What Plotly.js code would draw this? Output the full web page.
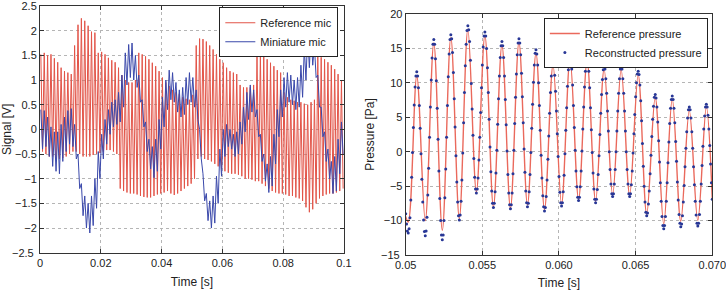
<!DOCTYPE html>
<html><head><meta charset="utf-8">
<script src="https://cdn.plot.ly/plotly-3.0.1.min.js"></script>
<style>html,body{margin:0;padding:0;background:#fff}#chart{width:726px;height:290px}</style>
</head><body><div id="chart"></div>
<script>
// ---------- Left panel: microphone signals (per-cycle maxima / minima, ~900 Hz tone) ----------
const leftDuration = 0.1;
const refMicHi = [1.52,1.55,1.50,1.52,1.44,1.36,1.25,1.18,1.15,1.12,
  1.70,2.12,2.25,2.20,2.10,1.98,1.96,1.55,1.57,1.52,
  1.45,1.40,1.36,1.25,1.10,1.00,0.95,0.95,1.00,1.55,
  1.52,1.48,1.42,1.35,1.28,1.18,1.05,0.95,0.88,0.80,
  0.75,0.72,0.65,0.62,0.60,0.70,1.70,1.84,1.83,1.78,
  1.70,1.62,1.52,1.42,1.35,1.25,1.18,1.15,1.12,0.90,
  0.85,0.85,0.85,0.90,1.50,1.52,1.48,1.42,1.35,1.28,
  1.20,1.15,0.75,0.65,0.60,0.58,0.55,0.55,0.52,0.50,
  0.55,0.60,1.48,1.46,1.42,1.36,1.30,1.22,1.12,1.00];
const refMicLo = [-0.45,-0.50,-0.55,-0.55,-0.60,-0.60,-0.58,-0.55,-0.50,-0.45,
  -0.45,-0.50,-0.55,-0.55,-0.55,-0.52,-0.50,-0.48,-0.45,-0.42,
  -0.42,-0.45,-0.50,-1.20,-1.25,-1.28,-1.30,-1.30,-1.32,-1.35,
  -1.37,-1.38,-1.38,-1.35,-1.32,-1.30,-1.28,-1.25,-1.30,-1.33,
  -1.30,-1.25,-1.20,-1.15,-1.10,-1.00,-0.60,-0.55,-0.60,-0.62,
  -0.65,-0.70,-0.75,-0.80,-0.85,-0.88,-0.90,-0.90,-0.92,-0.95,
  -1.00,-1.00,-1.02,-1.05,-1.05,-1.10,-1.15,-1.20,-1.25,-1.28,
  -1.30,-1.30,-1.32,-1.35,-1.35,-1.38,-1.40,-1.45,-1.58,-1.68,
  -1.62,-1.50,-1.40,-1.35,-1.32,-1.30,-1.30,-1.28,-1.25,-1.20];
const miniMicHi = [0.40,0.38,0.25,0.05,-0.05,-0.05,0.10,0.25,0.38,0.42,
  0.10,-0.50,-1.10,-1.35,-1.50,-1.35,-1.00,-0.45,-0.10,0.20,
  0.40,0.55,0.60,0.75,1.10,1.55,1.72,1.75,1.50,1.10,
  0.60,0.15,-0.20,-0.35,-0.20,0.20,0.65,1.00,1.20,1.15,
  0.95,0.80,0.85,1.05,1.15,1.05,0.80,0.00,-0.90,-1.30,
  -1.45,-1.35,-0.95,-0.40,0.00,0.10,0.00,-0.10,-0.05,0.15,
  0.45,0.75,0.90,0.80,0.40,-0.10,-0.50,-0.70,-0.55,-0.10,
  0.40,0.80,1.05,1.15,1.10,1.00,1.05,1.30,1.65,1.92,
  1.98,1.70,1.10,0.45,-0.05,-0.40,-0.65,-0.55,-0.20,0.15];
const miniMicLo = [-0.40,-0.35,-0.55,-0.75,-0.85,-0.90,-0.65,-0.45,-0.30,-0.35,
  -0.60,-1.20,-1.75,-2.00,-2.10,-1.95,-1.60,-1.00,-0.60,-0.30,
  -0.10,0.05,0.10,0.15,0.45,0.90,1.05,1.00,0.85,0.55,
  0.05,-0.45,-0.80,-0.98,-0.85,-0.40,0.05,0.40,0.60,0.55,
  0.35,0.25,0.30,0.50,0.55,0.45,0.20,-0.60,-1.45,-1.85,
  -2.00,-1.90,-1.50,-0.95,-0.55,-0.35,-0.40,-0.55,-0.50,-0.30,
  -0.05,0.20,0.35,0.25,-0.15,-0.65,-1.05,-1.28,-1.15,-0.70,
  -0.15,0.25,0.45,0.55,0.50,0.40,0.45,0.65,1.00,1.25,
  1.30,1.05,0.45,-0.15,-0.65,-1.00,-1.30,-1.25,-0.90,-0.50];

// ---------- Right panel: pressure 0.05 - 0.07 s ----------
const pressStart = 0.05, pressEnd = 0.07;
const reconstructed = [
 -9.0,-10.5,-11.5,
 -11.8,-11.2,-9.6,-7.0,-3.7,-0.1,3.5,6.8,9.4,11.0,
 11.6,11.0,9.3,6.7,3.4,-0.3,-4.0,-7.3,-9.9,-11.6,
 -12.2,-11.5,-9.5,-6.3,-2.4,2.1,6.5,10.4,13.6,15.6,
 16.3,15.6,13.5,10.3,6.3,1.8,-2.8,-6.8,-10.0,-12.1,
 -12.8,-12.1,-10.0,-6.7,-2.5,2.1,6.7,10.9,14.2,16.3,
 17.0,16.4,14.4,11.5,7.7,3.6,-0.6,-4.4,-7.3,-9.3,
 -9.9,-9.2,-7.2,-4.1,-0.2,4.2,8.6,12.5,15.6,17.6,
 18.3,17.7,16.0,13.3,9.9,6.2,2.4,-1.0,-3.7,-5.4,
 -6.0,-5.4,-3.8,-1.2,2.1,5.7,9.3,12.6,15.2,16.8,
 17.4,16.8,15.0,12.2,8.6,4.7,0.7,-2.9,-5.7,-7.5,
 -8.1,-7.5,-5.8,-3.1,0.2,4.0,7.7,11.0,13.7,15.4,
 16.0,15.4,13.7,11.0,7.6,3.9,0.1,-3.3,-6.0,-7.7,
 -8.3,-7.7,-6.0,-3.2,0.2,4.1,7.9,11.3,14.1,15.8,
 16.4,15.8,14.1,11.4,8.0,4.2,0.4,-3.0,-5.7,-7.4,
 -8.0,-7.5,-5.8,-3.3,-0.1,3.4,6.9,10.1,12.6,14.3,
 14.8,14.2,12.6,10.0,6.7,3.1,-0.5,-3.8,-6.4,-8.0,
 -8.6,-8.1,-6.5,-4.1,-1.1,2.3,5.6,8.6,11.0,12.6,
 13.1,12.6,11.1,8.8,5.9,2.6,-0.7,-3.6,-5.9,-7.4,
 -7.9,-7.4,-5.8,-3.4,-0.3,3.1,6.4,9.5,11.9,13.5,
 14.0,13.5,12.0,9.7,6.7,3.5,0.2,-2.8,-5.1,-6.6,
 -7.1,-6.6,-5.1,-2.8,0.1,3.3,6.5,9.4,11.7,13.2,
 13.7,13.2,11.7,9.3,6.4,3.2,-0.1,-3.1,-5.4,-6.9,
 -7.4,-6.9,-5.5,-3.3,-0.6,2.5,5.6,8.3,10.5,11.9,
 12.4,12.0,10.6,8.5,5.9,3.0,0.0,-2.6,-4.7,-6.1,
 -6.5,-6.1,-4.7,-2.6,0.0,3.0,5.9,8.5,10.6,12.0,
 12.4,12.0,10.6,8.5,5.9,3.0,0.0,-2.6,-4.7,-6.1,
 -6.5,-6.1,-4.8,-2.8,-0.2,2.6,5.4,8.0,10.0,11.3,
 11.7,11.2,9.7,7.4,4.5,1.2,-2.1,-5.0,-7.3,-8.8,
 -9.3,-8.9,-7.6,-5.7,-3.2,-0.5,2.2,4.7,6.6,7.9,
 8.3,7.8,6.5,4.3,1.6,-1.5,-4.5,-7.2,-9.4,-10.7,
 -11.2,-10.7,-9.4,-7.2,-4.5,-1.6,1.4,4.1,6.3,7.6,
 8.1,7.6,6.3,4.2,1.5,-1.4,-4.4,-7.0,-9.1,-10.4,
 -10.9,-10.5,-9.3,-7.3,-4.9,-2.2,0.5,2.9,4.9,6.1,
 6.5,6.1,4.9,2.9,0.5,-2.2,-4.8,-7.2,-9.2,-10.4,
 -10.8,-10.4,-9.1,-7.2,-4.7,-2.0,0.8,3.3,5.2,6.5,
 6.9,6.5,5.3,3.3,0.9,-1.8,-4.5,-6.9];
// reference pressure: value at start, at each trough/peak, and at end
const referenceExtrema = [-9.4,-10.2,11.0,-10.0,15.8,-11.4,16.6,-9.7,17.8,-5.8,16.9,-8.0,15.5,-8.2,15.9,
  -7.7,14.3,-8.4,12.6,-7.6,13.5,-6.9,13.2,-7.2,12.0,-6.3,11.9,-6.3,11.2,-9.1,7.9,-10.5,7.7,-10.1,6.0,
  -10.0,6.5,-7.0];
// sample index (in the reconstructed grid) of each reference value
const referenceSampleIdx = [0,3,13,23,33,43,53,63,73,83,93,103,113,123,133,143,153,163,173,183,193,
  203,213,223,233,243,253,263,273,283,293,303,313,323,333,343,353,360];

// tick labels
const leftYTicks = [-2.5,-2,-1.5,-1,-0.5,0,0.5,1,1.5,2,2.5];
const leftXTicks = [0,0.02,0.04,0.06,0.08,0.1];
const rightXTicks = [0.05,0.055,0.06,0.065,0.07];
const rightXLabels = ['0.05','0.055','0.060','0.065','0.070'];
const rightYTicks = [-15,-10,-5,0,5,10,15,20];

// ---------- build traces ----------
const T = leftDuration / refMicHi.length;
function zigzag(hi, lo){
  const x=[], y=[];
  for(let k=0;k<hi.length;k++){
    x.push((k+0.25)*T); y.push(hi[k]);
    x.push((k+0.75)*T); y.push(lo[k]);
  }
  return {x,y};
}
const refZ = zigzag(refMicHi, refMicLo);
const miniZ = zigzag(miniMicHi, miniMicLo);
const dt = (pressEnd - pressStart)/(reconstructed.length-1);
const tRec = reconstructed.map((_,i)=>pressStart + i*dt);
const tRef = referenceSampleIdx.map(i=>pressStart + i*dt);

const fmt = v => (v < 0 ? '\u2212' + Math.abs(v) : String(v));
// lowest y labels are written as annotations (Plotly drops them at the corner)
const leftYText = leftYTicks.map((v,i)=> i===0 ? '' : fmt(v));
const rightYText = rightYTicks.map((v,i)=> i===0 ? '' : fmt(v));

const FONT = 'Liberation Sans, Arial, Helvetica, sans-serif';
const traces = [
  {x:refZ.x, y:refZ.y, type:'scatter', mode:'lines', name:'Reference mic',
   line:{color:'rgb(226,84,72)', width:1}, xaxis:'x', yaxis:'y', legend:'legend'},
  {x:miniZ.x, y:miniZ.y, type:'scatter', mode:'lines', name:'Miniature mic',
   line:{color:'rgb(58,72,170)', width:1}, xaxis:'x', yaxis:'y', legend:'legend'},
  {x:tRef, y:referenceExtrema, type:'scatter', mode:'lines', name:'Reference pressure',
   line:{color:'rgb(234,105,92)', width:1.4, shape:'spline', smoothing:1}, xaxis:'x2', yaxis:'y2', legend:'legend2'},
  {x:tRec, y:reconstructed, type:'scatter', mode:'markers', name:'Reconstructed pressure',
   marker:{color:'rgb(40,55,150)', size:3}, xaxis:'x2', yaxis:'y2', legend:'legend2'}
];

const ax = {showline:true, mirror:'ticks', linecolor:'#333', linewidth:1, ticks:'inside', ticklen:4,
  tickcolor:'#333', showgrid:true, gridcolor:'#b5b5b5', griddash:'dot', gridwidth:1, zeroline:false,
  automargin:false, ticklabeloverflow:'allow', tickfont:{family:FONT, size:11, color:'#222'}};
const titleFont = {family:FONT, size:12, color:'#222'};
const tickFont = {family:FONT, size:11, color:'#222'};

const leftDomainY = [0.1286,0.9793];
const rightDomainY = [0.1207,0.9517];
const bottomLabels = [
  {xref:'paper', x:35/726, xanchor:'right', yref:'paper', y:leftDomainY[0], yanchor:'middle',
   text:fmt(leftYTicks[0]), showarrow:false, font:tickFont, borderpad:0},
  {xref:'paper', x:401/726, xanchor:'right', yref:'paper', y:rightDomainY[0], yanchor:'middle',
   text:fmt(rightYTicks[0]), showarrow:false, font:tickFont, borderpad:0}
];

const layout = {
  width:726, height:290, margin:{l:0,r:0,t:0,b:0}, paper_bgcolor:'#fff', plot_bgcolor:'#fff',
  showlegend:true, font:{family:FONT, size:11, color:'#222'},
  xaxis:Object.assign({}, ax, {domain:[0.0551,0.4738], range:[0,0.1], anchor:'y',
    tickvals:leftXTicks, title:{text:'Time [s]', font:titleFont, standoff:9}}),
  yaxis:Object.assign({}, ax, {domain:leftDomainY, range:[-2.5,2.5], anchor:'x',
    tickvals:leftYTicks, ticktext:leftYText, title:{text:'Signal [V]', font:titleFont, standoff:5}}),
  xaxis2:Object.assign({}, ax, {domain:[0.5588,0.9811], range:[0.05,0.07], anchor:'y2',
    tickvals:rightXTicks, ticktext:rightXLabels,
    title:{text:'Time [s]', font:titleFont, standoff:9}}),
  yaxis2:Object.assign({}, ax, {domain:rightDomainY, range:[-15,20], anchor:'x2',
    tickvals:rightYTicks, ticktext:rightYText, title:{text:'Pressure [Pa]', font:titleFont, standoff:6}}),
  annotations: bottomLabels,
  legend:{x:0.466, xanchor:'right', y:0.975, yanchor:'top', bgcolor:'#fff', bordercolor:'#222',
    borderwidth:1, font:{family:FONT, size:11, color:'#222'}, tracegroupgap:0, itemwidth:30},
  legend2:{x:0.975, xanchor:'right', y:0.938, yanchor:'top', bgcolor:'#fff', bordercolor:'#222',
    borderwidth:1, font:{family:FONT, size:11, color:'#222'}, tracegroupgap:0, itemwidth:30}
};
Plotly.newPlot('chart', traces, layout, {displayModeBar:false, staticPlot:true});
</script>
</body></html>
